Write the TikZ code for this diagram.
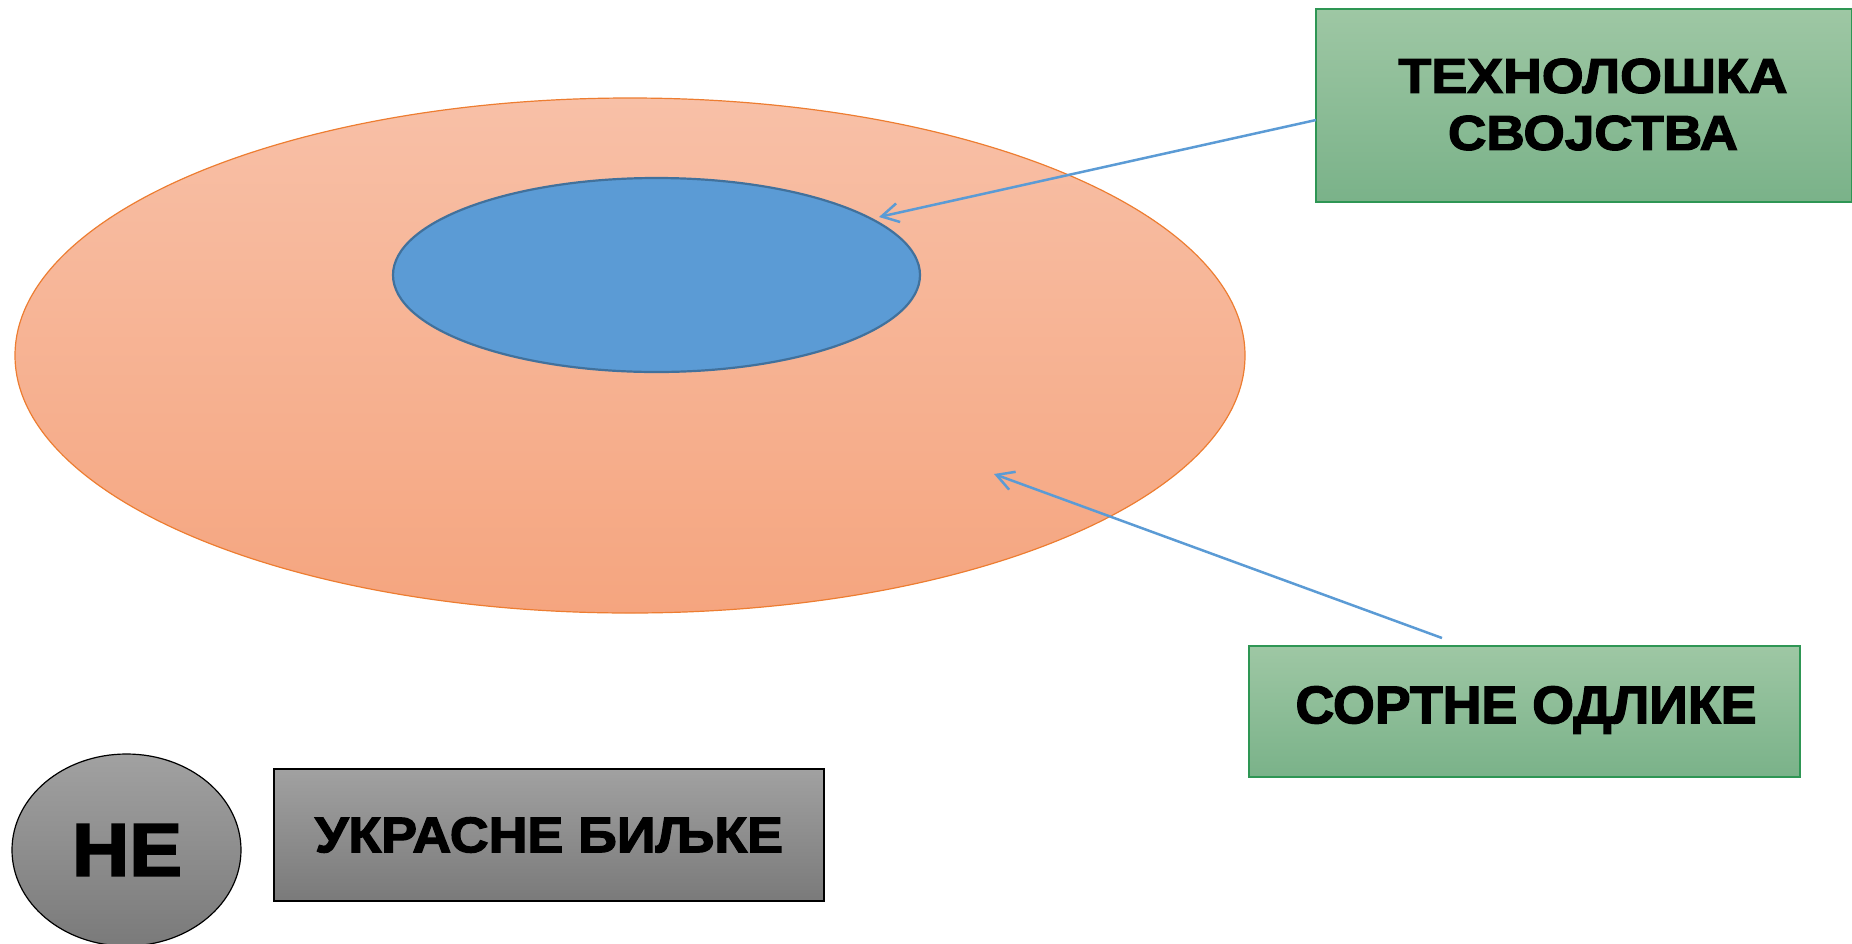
\documentclass[tikz,border=0pt]{standalone}
\usepackage{fontspec}
\usepackage{graphicx}
\newfontfamily\blk{Liberation Sans}[UprightFont={* Bold}, FakeBold=2.4]
\usetikzlibrary{shapes.geometric,arrows.meta}
\newlength\fitlen
\newcommand\fitw[2]{\settowidth\fitlen{#2}\scalebox{\fpeval{(#1)/(\the\fitlen)}}[1]{#2}}
\definecolor{peachT}{RGB}{248,192,167}
\definecolor{peachB}{RGB}{245,165,127}
\definecolor{orangeE}{RGB}{237,125,49}
\definecolor{blueF}{RGB}{91,155,213}
\definecolor{blueE}{RGB}{65,113,156}
\definecolor{greenT}{RGB}{158,199,164}
\definecolor{greenB}{RGB}{122,178,137}
\definecolor{greenE}{RGB}{46,150,84}
\definecolor{grayT}{RGB}{161,161,161}
\definecolor{grayB}{RGB}{122,122,122}
\tikzset{
  greenbox/.style={rectangle, draw=greenE, line width=1.5pt, top color=greenT, bottom color=greenB, inner sep=0pt},
  graybox/.style={rectangle, draw=black, line width=1.2pt, top color=grayT, bottom color=grayB, inner sep=0pt},
  lbl/.style={font=\blk, text=black, inner sep=0pt},
  conn/.style={draw=blueF, line width=2.5pt, -{Straight Barb[length=17pt,width=19pt,line width=2.5pt]}},
}
\begin{document}
\begin{tikzpicture}[x=1pt,y=-1pt]
\useasboundingbox (0,0) rectangle (1852,943);
% big ellipse
\node[ellipse, draw=orangeE, line width=1.2pt, top color=peachT, bottom color=peachB,
      minimum width=1230pt, minimum height=515pt, inner sep=0pt] (outer) at (630,355.5) {};
% inner ellipse
\node[ellipse, draw=blueE, line width=2.2pt, fill=blueF,
      minimum width=527pt, minimum height=194pt, inner sep=0pt] (inner) at (656.5,275) {};
% top-right box
\node[greenbox, minimum width=536pt, minimum height=193pt] (tech) at (1584,105.5) {};
\node[lbl, align=center, font=\blk\fontsize{49}{57}\selectfont] (techtext) at (1593,104.5)
  {\fitw{389}{ТЕХНОЛОШКА}\\\fitw{290}{СВОЈСТВА}};
% bottom-right box
\node[greenbox, minimum width=551pt, minimum height=131pt] (sort) at (1524.5,711.5) {};
\node[lbl, font=\blk\fontsize{53}{60}\selectfont] (sorttext) at (1526,710) {\fitw{461}{СОРТНЕ ОДЛИКЕ}};
% NE ellipse
\node[ellipse, draw=black, line width=1.2pt, top color=grayT, bottom color=grayB,
      minimum width=229pt, minimum height=192pt, inner sep=0pt] (ne) at (126.5,850) {};
\node[lbl, font=\blk\fontsize{75}{80}\selectfont] (netext) at (127,850) {\fitw{110}{НЕ}};
% gray box
\node[graybox, minimum width=550pt, minimum height=132pt] (ukr) at (549,835) {};
\node[lbl, font=\blk\fontsize{50}{56}\selectfont] (ukrtext) at (549,835) {\fitw{468}{УКРАСНЕ БИЉКЕ}};
% connectors
\coordinate (s1) at (1316,120);
\coordinate (t1) at (879,217);
\coordinate (s2) at (1442,638);
\coordinate (t2) at (994,474);
\draw[conn] (s1) -- (t1);
\draw[conn] (s2) -- (t2);
\end{tikzpicture}
\end{document}
